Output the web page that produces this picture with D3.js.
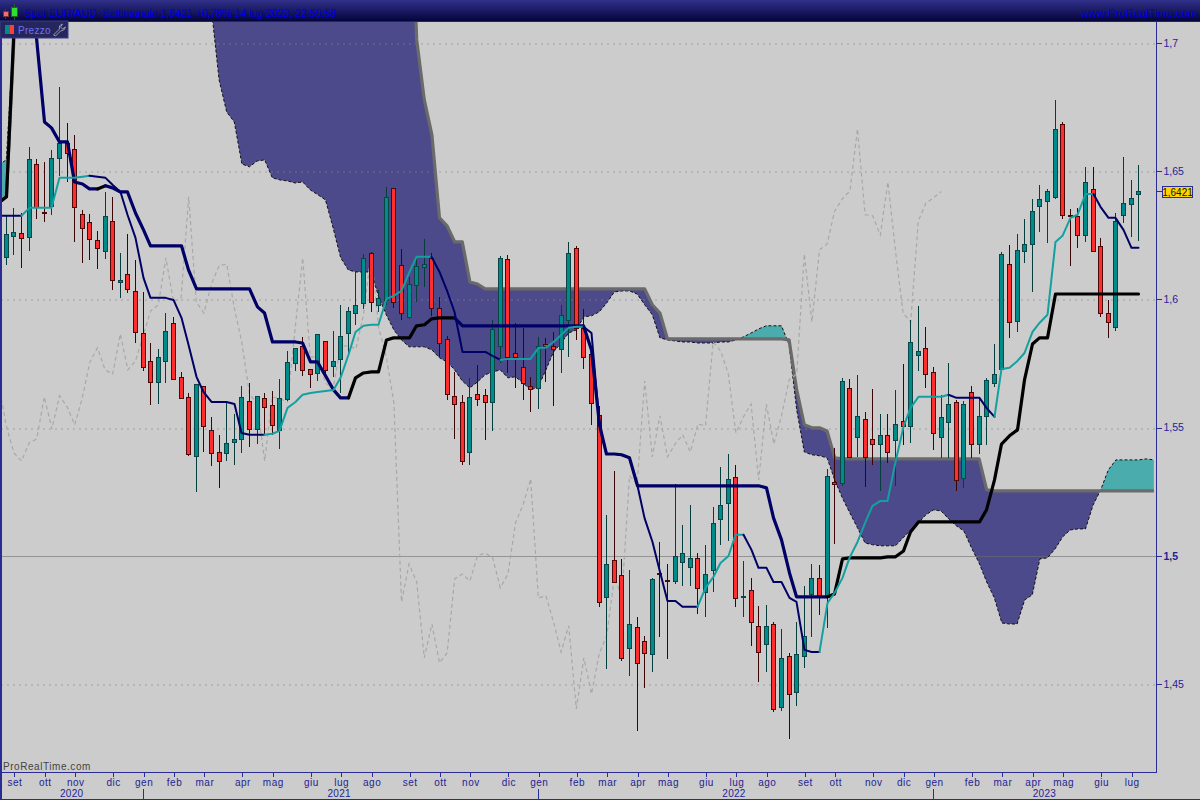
<!DOCTYPE html>
<html><head><meta charset="utf-8">
<style>html,body{margin:0;padding:0;background:#cccccc}svg{display:block}text{font-family:"Liberation Sans",Arial,sans-serif}</style>
<script src="https://cdn.jsdelivr.net/npm/d3@7/dist/d3.min.js"></script>
</head><body><div id="chart"></div>
<script>
// Weekly candles, bar 0 .. bar 149
const opens=[1.6166,1.6248,1.6259,1.6244,1.6528,1.6341,1.6365,1.6552,1.6610,1.6587,
1.6333,1.6302,1.6232,1.6189,1.6306,1.6068,1.6099,1.6033,1.5869,1.5760,
1.5678,1.5760,1.5908,1.5698,1.5620,1.5390,1.5663,1.5491,1.5405,1.5401,
1.5444,1.5456,1.5604,1.5495,1.5616,1.5589,1.5491,1.5612,1.5752,1.5819,
1.5729,1.5713,1.5838,1.5741,1.5768,1.5869,1.5947,1.5986,1.6181,1.5979,
1.5998,1.6435,1.6135,1.5932,1.6056,1.6127,1.6162,1.5967,1.5846,1.5624,
1.5600,1.5405,1.5631,1.5628,1.5600,1.5819,1.6158,1.5791,1.5737,1.5663,
1.5655,1.5826,1.5819,1.5807,1.5920,1.6201,1.5889,1.5787,1.5550,1.4840,
1.4984,1.4926,1.4641,1.4723,1.4668,1.4617,1.4933,1.4906,1.4902,1.4976,
1.4957,1.4992,1.4859,1.4945,1.5144,1.5206,1.5308,1.4840,1.4867,1.4727,
1.4656,1.4734,1.4411,1.4610,1.4469,1.4610,1.4851,1.4914,1.4840,1.5288,
1.5284,1.5655,1.5464,1.5534,1.5456,1.5436,1.5472,1.5452,1.5526,1.5507,
1.5784,1.5811,1.5717,1.5464,1.5522,1.5600,1.5304,1.5639,1.5436,1.5546,
1.5674,1.5729,1.6138,1.5916,1.6189,1.6216,1.6365,1.6384,1.6400,1.6684,
1.6330,1.6326,1.6251,1.6431,1.6209,1.5947,1.5893,1.6330,1.6372,1.6411];
const highs=[1.6326,1.6357,1.6337,1.6595,1.6548,1.6536,1.6583,1.6829,1.6688,1.6642,
1.6349,1.6333,1.6267,1.6419,1.6400,1.6181,1.6255,1.6154,1.6029,1.5830,
1.5807,1.5947,1.5932,1.5717,1.5635,1.5670,1.5663,1.5542,1.5472,1.5604,
1.5553,1.5663,1.5674,1.5624,1.5635,1.5643,1.5690,1.5799,1.5811,1.5854,
1.5729,1.5865,1.5838,1.5877,1.5979,1.5971,1.6107,1.6177,1.6185,1.6037,
1.6439,1.6435,1.6197,1.6088,1.6162,1.6236,1.6181,1.6010,1.5858,1.5717,
1.5628,1.5694,1.5745,1.5651,1.5920,1.6170,1.6173,1.5908,1.5889,1.5698,
1.5854,1.5850,1.5873,1.5979,1.6224,1.6209,1.5963,1.5787,1.5585,1.5160,
1.5331,1.4988,1.4945,1.4762,1.4688,1.4914,1.5054,1.4968,1.5280,1.5121,
1.5199,1.5011,1.5042,1.5191,1.5347,1.5397,1.5355,1.4980,1.4914,1.4805,
1.4809,1.4742,1.4715,1.4621,1.4742,1.4883,1.4968,1.4964,1.5339,1.5421,
1.5694,1.5690,1.5706,1.5561,1.5651,1.5553,1.5553,1.5647,1.5748,1.5920,
1.5975,1.5893,1.5737,1.5628,1.5752,1.5608,1.5604,1.5663,1.5620,1.5694,
1.5826,1.6185,1.6212,1.6255,1.6314,1.6392,1.6447,1.6431,1.6778,1.6692,
1.6353,1.6357,1.6517,1.6517,1.6240,1.5998,1.6337,1.6556,1.6466,1.6525];
const lows=[1.6135,1.6173,1.6123,1.6189,1.6314,1.6302,1.6330,1.6482,1.6458,1.6224,
1.6142,1.6154,1.6119,1.6158,1.6037,1.6006,1.6025,1.5830,1.5721,1.5589,
1.5592,1.5674,1.5686,1.5612,1.5390,1.5249,1.5405,1.5351,1.5265,1.5370,
1.5355,1.5401,1.5425,1.5436,1.5472,1.5472,1.5417,1.5604,1.5721,1.5702,
1.5655,1.5682,1.5698,1.5698,1.5635,1.5791,1.5900,1.5963,1.5951,1.5951,
1.5979,1.5967,1.5920,1.5924,1.5990,1.6049,1.5936,1.5776,1.5608,1.5456,
1.5355,1.5355,1.5585,1.5452,1.5487,1.5752,1.5713,1.5655,1.5608,1.5561,
1.5573,1.5678,1.5585,1.5713,1.5776,1.5842,1.5729,1.5511,1.4801,1.4559,
1.4894,1.4590,1.4532,1.4317,1.4485,1.4547,1.4684,1.4598,1.4890,1.4883,
1.4883,1.4773,1.4762,1.4859,1.5042,1.5058,1.4801,1.4762,1.4649,1.4508,
1.4547,1.4391,1.4395,1.4286,1.4415,1.4563,1.4684,1.4770,1.4719,1.5046,
1.5273,1.5386,1.5386,1.5269,1.5355,1.5253,1.5362,1.5273,1.5432,1.5440,
1.5721,1.5655,1.5413,1.5382,1.5382,1.5253,1.5265,1.5382,1.5397,1.5432,
1.5659,1.5717,1.5850,1.5873,1.6142,1.6029,1.6263,1.6220,1.6392,1.6314,
1.6131,1.6201,1.6224,1.6185,1.5932,1.5850,1.5877,1.6298,1.6244,1.6228];
const closes=[1.6255,1.6263,1.6240,1.6548,1.6361,1.6337,1.6552,1.6610,1.6571,1.6361,
1.6279,1.6236,1.6201,1.6326,1.6076,1.6076,1.6041,1.5873,1.5737,1.5678,
1.5776,1.5877,1.5690,1.5616,1.5397,1.5670,1.5507,1.5401,1.5370,1.5440,
1.5456,1.5620,1.5495,1.5624,1.5581,1.5511,1.5616,1.5756,1.5811,1.5725,
1.5709,1.5865,1.5725,1.5760,1.5858,1.5955,1.5979,1.6162,1.5990,1.6006,
1.6400,1.5990,1.5947,1.6060,1.6131,1.6138,1.5967,1.5830,1.5631,1.5592,
1.5370,1.5620,1.5612,1.5600,1.5885,1.6162,1.5776,1.5776,1.5674,1.5651,
1.5819,1.5819,1.5807,1.5940,1.6181,1.5889,1.5776,1.5596,1.4820,1.4968,
1.4898,1.4602,1.4734,1.4582,1.4621,1.4910,1.4929,1.4902,1.5000,1.5011,
1.4992,1.4875,1.4929,1.5128,1.5199,1.5300,1.4836,1.4844,1.4742,1.4625,
1.4727,1.4403,1.4602,1.4461,1.4617,1.4688,1.4914,1.4840,1.5312,1.5280,
1.5682,1.5386,1.5546,1.5386,1.5436,1.5472,1.5405,1.5514,1.5507,1.5834,
1.5799,1.5709,1.5479,1.5542,1.5592,1.5296,1.5592,1.5436,1.5546,1.5686,
1.5709,1.6177,1.5912,1.6193,1.6216,1.6345,1.6392,1.6423,1.6665,1.6330,
1.6326,1.6251,1.6458,1.6189,1.5947,1.5912,1.6306,1.6376,1.6396,1.6421];

// Ichimoku lines: the first value of each belongs to bar -1 (just off the left edge)
const kijun=[1.6376,1.6400,1.7012,1.8338,1.7948,1.7020,1.6692,1.6669,1.6614,1.6614,
1.6458,1.6450,1.6431,1.6431,1.6443,1.6435,1.6419,1.6419,1.6337,1.6271,
1.6209,1.6209,1.6209,1.6209,1.6209,1.6115,1.6041,1.6041,1.6041,1.6041,
1.6041,1.6041,1.6041,1.6041,1.5971,1.5947,1.5834,1.5834,1.5834,1.5834,
1.5830,1.5756,1.5756,1.5702,1.5647,1.5616,1.5616,1.5694,1.5713,1.5717,
1.5717,1.5842,1.5850,1.5850,1.5850,1.5897,1.5901,1.5924,1.5928,1.5928,
1.5928,1.5897,1.5897,1.5897,1.5897,1.5897,1.5897,1.5897,1.5897,1.5897,
1.5897,1.5897,1.5897,1.5897,1.5897,1.5897,1.5897,1.5897,1.5803,1.5511,
1.5397,1.5397,1.5394,1.5382,1.5273,1.5273,1.5273,1.5273,1.5273,1.5273,
1.5273,1.5273,1.5273,1.5273,1.5273,1.5273,1.5273,1.5273,1.5273,1.5273,
1.5273,1.5265,1.5148,1.5062,1.4933,1.4840,1.4840,1.4840,1.4840,1.4840,
1.4851,1.4988,1.4992,1.4992,1.4992,1.4992,1.4992,1.4996,1.4996,1.5019,
1.5093,1.5132,1.5132,1.5132,1.5132,1.5132,1.5132,1.5132,1.5132,1.5132,
1.5179,1.5296,1.5436,1.5468,1.5491,1.5686,1.5826,1.5850,1.5850,1.6021,
1.6021,1.6021,1.6021,1.6021,1.6021,1.6021,1.6021,1.6021,1.6021,1.6021,1.6021];
const tenkan=[1.6326,1.6326,1.6326,1.6326,1.6357,1.6357,1.6357,1.6357,1.6474,1.6474,
1.6474,1.6478,1.6482,1.6478,1.6474,1.6447,1.6419,1.6330,1.6240,1.6084,
1.6006,1.6006,1.6006,1.5998,1.5928,1.5823,1.5698,1.5639,1.5600,1.5600,
1.5600,1.5592,1.5479,1.5472,1.5472,1.5472,1.5476,1.5487,1.5577,1.5600,
1.5628,1.5635,1.5639,1.5643,1.5647,1.5694,1.5784,1.5873,1.5897,1.5901,
1.5901,1.6002,1.6014,1.6033,1.6107,1.6166,1.6166,1.6166,1.6107,1.6029,
1.5951,1.5795,1.5795,1.5795,1.5795,1.5780,1.5764,1.5768,1.5768,1.5768,
1.5768,1.5811,1.5811,1.5834,1.5862,1.5889,1.5893,1.5893,1.5869,1.5511,
1.5397,1.5397,1.5394,1.5382,1.5273,1.5148,1.5054,1.4945,1.4824,1.4824,
1.4801,1.4801,1.4801,1.4875,1.4918,1.4972,1.4999,1.5082,1.5082,1.5023,
1.4953,1.4953,1.4898,1.4898,1.4836,1.4820,1.4633,1.4625,1.4625,1.4816,
1.4855,1.4914,1.4992,1.5054,1.5132,1.5195,1.5214,1.5214,1.5366,1.5503,
1.5577,1.5620,1.5620,1.5620,1.5620,1.5628,1.5616,1.5616,1.5616,1.5616,
1.5577,1.5542,1.5729,1.5733,1.5760,1.5791,1.5873,1.5908,1.5940,1.6224,
1.6248,1.6318,1.6330,1.6411,1.6411,1.6361,1.6318,1.6318,1.6271,1.6201,1.6201];
const spanA=[1.6525,1.6544,1.7051,1.8338,null,null,null,null,null,null,
null,null,null,null,null,null,null,null,null,null,
null,null,null,null,null,null,null,null,1.7129,1.6856,
1.6731,1.6692,1.6528,1.6517,1.6540,1.6544,1.6474,1.6466,1.6462,1.6454,
1.6458,1.6427,1.6408,1.6388,1.6279,1.6162,1.6115,1.6107,1.6107,1.6107,
1.6010,1.5940,1.5881,1.5842,1.5815,1.5815,1.5815,1.5803,1.5772,1.5756,
1.5725,1.5682,1.5655,1.5678,1.5706,1.5717,1.5725,1.5694,1.5698,1.5674,
1.5647,1.5659,1.5725,1.5795,1.5830,1.5869,1.5881,1.5932,1.5936,1.5951,
1.5986,1.6029,1.6033,1.6033,1.6021,1.5979,1.5940,1.5850,1.5842,1.5838,
1.5834,1.5834,1.5830,1.5830,1.5830,1.5834,1.5834,1.5842,1.5854,1.5869,
1.5885,1.5897,1.5897,1.5897,1.5823,1.5569,1.5405,1.5394,1.5390,1.5382,
1.5296,1.5226,1.5167,1.5109,1.5050,1.5043,1.5039,1.5039,1.5039,1.5070,
1.5101,1.5128,1.5160,1.5179,1.5175,1.5144,1.5117,1.5097,1.5031,1.4972,
1.4898,1.4836,1.4738,1.4734,1.4734,1.4828,1.4848,1.4988,1.4992,1.5027,
1.5074,1.5101,1.5105,1.5105,1.5198,1.5257,1.5335,1.5374,1.5374,1.5374,
1.5374,1.5378,1.5374];
const spanB=[1.6376,1.6400,1.7012,1.8338,null,null,null,null,null,null,
null,null,null,null,null,null,null,null,null,null,
null,null,null,null,null,null,null,null,1.78,1.78,
1.78,1.78,1.78,1.78,1.78,1.78,1.78,1.78,1.78,1.78,
1.78,1.78,1.78,1.78,1.78,1.78,1.78,1.78,1.78,1.78,
1.78,1.78,1.78,1.78,1.78,1.7012,1.6778,1.6642,1.6318,1.6287,
1.6224,1.6224,1.6068,1.6060,1.6041,1.6041,1.6041,1.6041,1.6041,1.6041,
1.6041,1.6041,1.6041,1.6041,1.6041,1.6041,1.6041,1.6041,1.6041,1.6041,
1.6041,1.6041,1.6041,1.6041,1.6041,1.6041,1.5979,1.5947,1.5846,1.5846,
1.5846,1.5846,1.5846,1.5846,1.5846,1.5846,1.5846,1.5846,1.5846,1.5846,
1.5846,1.5846,1.5846,1.5846,1.5842,1.5647,1.5511,1.5499,1.5499,1.5487,
1.5382,1.5378,1.5378,1.5378,1.5378,1.5378,1.5378,1.5378,1.5378,1.5378,
1.5378,1.5378,1.5378,1.5378,1.5378,1.5378,1.5378,1.5378,1.5378,1.5378,
1.5257,1.5253,1.5253,1.5253,1.5253,1.5253,1.5253,1.5253,1.5253,1.5253,
1.5253,1.5253,1.5253,1.5253,1.5253,1.5253,1.5253,1.5253,1.5253,1.5253,
1.5253,1.5253,1.5253];

const chikouShift=26;
const priceTicks=[1.7,1.65,1.6,1.55,1.5,1.45];
const monthBars=[1,5,9,14,18,22,26,31,35,40,44,48,53,57,61,66,70,75,79,83,87,92,96,100,105,109,114,118,122,127,131,135,139,144,148];
const monthLabels=["set","ott","nov","dic","gen","feb","mar","apr","mag","giu","lug","ago","set","ott","nov","dic","gen","feb","mar","apr","mag","giu","lug","ago","set","ott","nov","dic","gen","feb","mar","apr","mag","giu","lug"];
const yearLabels=["2020","2021","2022","2023"];
const yearBars=[8.6,43.8,95.75,136.6];
const yearSplitBars=[18,70,122];
const lastPrice=1.6421;
const titleText="Spot EUR/AUD  Settimanale 1,6421 +0,78% 14 lug 2023, 22:59:58";

const W=1200,H=800,plotL=1,plotR=1156,plotT=21,plotB=772;
const navy="#000066", axisC="#2b2b96";
const x=d3.scaleLinear().domain([0,149]).range([6.3,1138.7]);
const y=d3.scaleLinear().domain([1.7,1.45]).range([43,684]);
const fmt=d=>String(+d.toFixed(4)).replace(".",",");
const px=i=>Math.floor(x(i))+0.5;
const py=v=>Math.round(y(v))+0.5;

const svg=d3.select("#chart").append("svg").attr("width",W).attr("height",H).attr("viewBox",`0 0 ${W} ${H}`);
const defs=svg.append("defs");
const hg=defs.append("linearGradient").attr("id","hdr").attr("x1",0).attr("x2",0).attr("y1",0).attr("y2",1);
hg.append("stop").attr("offset",0).attr("stop-color","#30308a");
hg.append("stop").attr("offset",1).attr("stop-color","#04043c");
svg.append("rect").attr("width",W).attr("height",H).attr("fill","#cccccc");
defs.append("clipPath").attr("id","plot").append("rect").attr("x",plotL).attr("y",plotT).attr("width",plotR-plotL).attr("height",plotB-plotT);

const bars=d3.range(-1,152);
const aOf=i=>spanA[i+1], bOf=i=>spanB[i+1];
const lineDefined=i=>bOf(i)!=null;
const cloudArea=d3.area().defined(lineDefined).x(x).y0(i=>y(aOf(i))).y1(i=>y(bOf(i)));
defs.append("clipPath").attr("id","aboveB").append("path").attr("d",d3.area().defined(lineDefined).x(x).y0(-1000).y1(i=>y(bOf(i)))(bars));
defs.append("clipPath").attr("id","belowB").append("path").attr("d",d3.area().defined(lineDefined).x(x).y0(i=>y(bOf(i))).y1(2000)(bars));

const plot=svg.append("g").attr("clip-path","url(#plot)");
plot.append("g").attr("clip-path","url(#belowB)").append("path").attr("d",cloudArea(bars)).attr("fill","#4c4a8a");
plot.append("g").attr("clip-path","url(#aboveB)").append("path").attr("d",cloudArea(bars)).attr("fill","#4aacac");

// grid over the cloud
plot.append("g").attr("shape-rendering","crispEdges").selectAll("line").data(priceTicks).join("line")
 .attr("x1",plotL).attr("x2",plotR).attr("y1",py).attr("y2",py)
 .attr("stroke",d=>d===1.5?"#6e6e6e":"#8a8a8a").attr("stroke-opacity",d=>d===1.5?0.6:0.32)
 .attr("stroke-width",d=>d===1.5?1:2).attr("stroke-dasharray",d=>d===1.5?null:"2 4");

// Span A dashed, Span B solid grey
plot.append("path").attr("d",d3.line().defined(i=>aOf(i)!=null).x(x).y(i=>y(aOf(i)))(bars)).attr("fill","none").attr("stroke","#111").attr("stroke-width",1).attr("stroke-dasharray","3 2");
plot.append("path").attr("d",d3.line().defined(lineDefined).x(x).y(i=>y(bOf(i))).curve(d3.curveLinear)(bars)).attr("fill","none").attr("stroke","#6a6a6a").attr("stroke-width",3.2).attr("stroke-linejoin","round");

// Chikou: the close drawn 26 bars back
plot.append("path").attr("d",d3.line().x((d,i)=>x(i-chikouShift)).y(d=>y(d))(closes)).attr("fill","none").attr("stroke","#a8a8a8").attr("stroke-width",1.2).attr("stroke-dasharray","4 3");

// Candles
const candleData=closes.map((c,i)=>({i,o:opens[i],h:highs[i],l:lows[i],c,up:c>=opens[i]}));
const cg=plot.append("g").attr("shape-rendering","crispEdges");
cg.selectAll("line").data(candleData).join("line")
 .attr("x1",d=>px(d.i)).attr("x2",d=>px(d.i)).attr("y1",d=>Math.round(y(d.h))).attr("y2",d=>Math.round(y(d.l)))
 .attr("stroke",d=>d.up?"#053c3c":"#3c0505");
cg.selectAll("rect").data(candleData).join("rect")
 .attr("x",d=>px(d.i)-2).attr("width",4)
 .attr("y",d=>py(Math.max(d.o,d.c))).attr("height",d=>Math.max(0.01,py(Math.min(d.o,d.c))-py(Math.max(d.o,d.c))))
 .attr("fill",d=>d.up?"#008b8b":"#ff2e2e").attr("stroke",d=>d.up?"#0a4444":"#4a0808");

// Kijun / Tenkan coloured by direction: segments that rise vs. fall
function drawDirectional(arr,upColor,downColor,width){
  let state=arr[1]>arr[0];
  const g=plot.append("g").attr("fill","none").attr("stroke-width",width).attr("stroke-linecap","round").attr("stroke-linejoin","round");
  const line=d3.line().x(d=>px(d.i)).y(d=>y(d.v));
  let run=[{i:-1,v:arr[0]}];
  const flush=c=>{g.append("path").attr("d",line(run)).attr("stroke",c);};
  for(let k=1;k<arr.length;k++){
    const s=arr[k]>arr[k-1]?true:arr[k]<arr[k-1]?false:state;
    const p={i:k-1,v:arr[k]};
    if(s!==state){flush(state?upColor:downColor);run=[run[run.length-1]];state=s;}
    run.push(p);
  }
  flush(state?upColor:downColor);
}
drawDirectional(kijun,"#000000",navy,3.2);
drawDirectional(tenkan,"#14a0a0",navy,2);

// Frame
const frame=svg.append("g").attr("shape-rendering","crispEdges").attr("stroke",axisC);
frame.append("line").attr("x1",0.5).attr("x2",0.5).attr("y1",21).attr("y2",800).attr("stroke-width",2);
frame.append("line").attr("x1",plotR+0.5).attr("x2",plotR+0.5).attr("y1",plotT).attr("y2",plotB+1);
frame.append("line").attr("x1",0).attr("x2",plotR+1).attr("y1",plotB+0.5).attr("y2",plotB+0.5);
frame.append("line").attr("x1",0).attr("x2",W).attr("y1",799.5).attr("y2",799.5);

// Price axis
const ax=svg.append("g").attr("transform",`translate(${plotR+0.5},0)`).call(d3.axisRight(y).tickValues(priceTicks).tickFormat(fmt).tickSize(5).tickPadding(2));
ax.select(".domain").remove();
ax.selectAll("line").attr("stroke",axisC).attr("shape-rendering","crispEdges");
ax.selectAll("text").attr("fill","#1e1e96").style("font-size","10.5px").style("font-weight",d=>d===1.5?"bold":"normal");

// Month axis
const mAx=svg.append("g").attr("transform",`translate(0,${plotB+0.5})`).call(d3.axisBottom(d3.scaleLinear().domain(x.domain()).range([6.8,1139.2])).tickValues(monthBars).tickFormat((d,i)=>monthLabels[i]).tickSize(4).tickPadding(3));
mAx.select(".domain").remove();
mAx.selectAll("line").attr("stroke",axisC).attr("shape-rendering","crispEdges");
mAx.selectAll("text").attr("fill","#1e1e96").style("font-size","10px").style("letter-spacing","0.5px").attr("dy","0.6em");

// Years
svg.append("g").selectAll("text").data(yearLabels).join("text")
 .attr("x",(d,i)=>x(yearBars[i])).attr("y",797).attr("text-anchor","middle").attr("fill","#1e1e96").style("font-size","10px").style("letter-spacing","0.3px").text(d=>d);
svg.append("g").selectAll("line").data(yearSplitBars).join("line")
 .attr("x1",px).attr("x2",px).attr("y1",789).attr("y2",799).attr("stroke",axisC).attr("shape-rendering","crispEdges");

svg.append("text").attr("x",3).attr("y",770).attr("fill","#444").style("font-size","10px").style("letter-spacing","0.55px").text("ProRealTime.com");

// Last price tag
const lastY=py(lastPrice);
svg.append("line").attr("x1",plotR+1).attr("x2",1162).attr("y1",lastY).attr("y2",lastY).attr("stroke",axisC).attr("shape-rendering","crispEdges");
svg.append("rect").attr("x",1162.5).attr("y",lastY-5).attr("width",30).attr("height",11).attr("fill","#ffd400").attr("stroke",axisC).attr("shape-rendering","crispEdges");
svg.append("text").attr("x",1177.5).attr("y",lastY+4).attr("text-anchor","middle").attr("fill","#111").style("font-size","10px").text(fmt(lastPrice));

// Header
svg.append("rect").attr("width",W).attr("height",21).attr("fill","url(#hdr)");
svg.append("line").attr("x1",0).attr("x2",W).attr("y1",21.5).attr("y2",21.5).attr("stroke","#23236e");
svg.append("line").attr("x1",5.5).attr("x2",5.5).attr("y1",9).attr("y2",19).attr("stroke","#702020");
svg.append("rect").attr("x",3.5).attr("y",11.5).attr("width",5).attr("height",5).attr("fill","#f07070").attr("stroke","#803030");
svg.append("line").attr("x1",14.5).attr("x2",14.5).attr("y1",4).attr("y2",20).attr("stroke","#206020");
svg.append("rect").attr("x",11.5).attr("y",7.5).attr("width",6).attr("height",9).attr("fill","#2fe02f").attr("stroke","#1c6a1c");
svg.append("text").attr("x",24).attr("y",17).attr("fill","#0000e6").style("font-size","11px").attr("textLength",312).attr("lengthAdjust","spacing").attr("xml:space","preserve").text(titleText);
svg.append("text").attr("x",1081).attr("y",17).attr("fill","#0000e6").style("font-size","11px").attr("textLength",116).attr("lengthAdjust","spacing").text("www.ProRealTime.com");

// Legend tab
svg.append("rect").attr("x",0).attr("y",21).attr("width",68).attr("height",17).attr("fill","#26265e").attr("stroke","#3a3a8a");
svg.append("rect").attr("x",5).attr("y",25).attr("width",5).attr("height",9).attr("fill","#008b8b");
svg.append("rect").attr("x",10).attr("y",25).attr("width",4).attr("height",9).attr("fill","#ff3d3d");
svg.append("text").attr("x",18).attr("y",34).attr("fill","#7070ee").style("font-size","10px").style("letter-spacing","0.3px").text("Prezzo");
svg.append("path").attr("d","M53.5 35 L59.5 29 Q58.5 25 62.5 24 L60.5 27 L62.5 29 L65.5 27 Q64.5 31 60.5 31 L55.5 36 Z").attr("fill","none").attr("stroke","#9a9ab0");
</script></body></html>
